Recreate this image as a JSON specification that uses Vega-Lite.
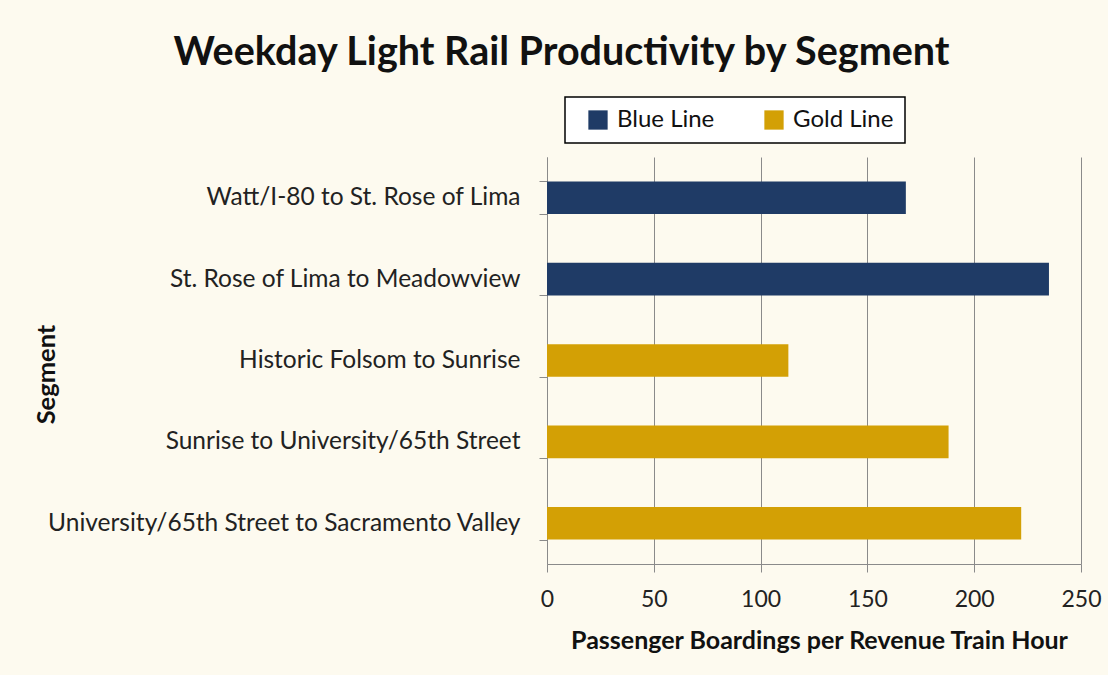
{
  "$schema": "https://vega.github.io/schema/vega-lite/v6.json",
  "width": 1108,
  "height": 675,
  "autosize": {"type": "fit", "contains": "padding"},
  "padding": {"left": 34, "top": 33, "right": 6, "bottom": 21},
  "background": "#fdfaef",
  "config": {
    "view": {"stroke": null},
    "font": "Lato",
    "axis": {"labelFont": "Lato", "titleFont": "Lato"}
  },
  "title": {
    "text": "Weekday Light Rail Productivity by Segment",
    "font": "Lato",
    "fontSize": 39.5,
    "fontWeight": "bold",
    "color": "#111111",
    "anchor": "middle",
    "frame": "bounds",
    "dx": -6,
    "offset": 70.5
  },
  "data": {
    "values": [
      {"segment": "Watt/I-80 to St. Rose of Lima", "line": "Blue Line", "value": 168},
      {"segment": "St. Rose of Lima to Meadowview", "line": "Blue Line", "value": 235},
      {"segment": "Historic Folsom to Sunrise", "line": "Gold Line", "value": 113},
      {"segment": "Sunrise to University/65th Street", "line": "Gold Line", "value": 188},
      {"segment": "University/65th Street to Sacramento Valley", "line": "Gold Line", "value": 222}
    ]
  },
  "mark": {"type": "bar"},
  "encoding": {
    "y": {
      "field": "segment",
      "type": "nominal",
      "sort": null,
      "scale": {"paddingInner": 0.6, "paddingOuter": 0.3},
      "axis": {
        "title": "Segment",
        "titleFontSize": 25.5,
        "titleFontWeight": "bold",
        "titleColor": "#111111",
        "titleAngle": -90,
        "titleX": -501,
        "titleY": 217,
        "titleAlign": "center",
        "titleBaseline": "middle",
        "labelFontSize": 24.5,
        "labelColor": "#222222",
        "labelPadding": 19,
        "labelLimit": 700,
        "tickBand": "extent",
        "tickSize": 8,
        "tickColor": "#8a8a8a",
        "domainColor": "#8a8a8a",
        "grid": false
      }
    },
    "x": {
      "field": "value",
      "type": "quantitative",
      "scale": {"domain": [0, 250], "nice": false},
      "axis": {
        "title": "Passenger Boardings per Revenue Train Hour",
        "titleFontSize": 25,
        "titleFontWeight": "bold",
        "titleColor": "#111111",
        "titleX": 272,
        "titleAlign": "center",
        "titlePadding": 17.5,
        "values": [0, 50, 100, 150, 200, 250],
        "labelFontSize": 23,
        "labelColor": "#222222",
        "labelPadding": 16,
        "labelFlush": false,
        "tickSize": 8,
        "tickColor": "#8a8a8a",
        "domainColor": "#8a8a8a",
        "grid": true,
        "gridColor": "#8a8a8a",
        "gridOpacity": 1
      }
    },
    "color": {
      "field": "line",
      "type": "nominal",
      "scale": {"domain": ["Blue Line", "Gold Line"], "range": ["#1f3b66", "#d3a005"]},
      "legend": {
        "orient": "none",
        "legendX": 18,
        "legendY": -60,
        "direction": "horizontal",
        "title": null,
        "fillColor": "#ffffff",
        "strokeColor": "#000000",
        "padding": 11,
        "symbolType": "square",
        "symbolSize": 372,
        "symbolStrokeWidth": 0,
        "symbolOffset": 10,
        "labelOffset": 7,
        "labelFont": "Lato",
        "labelFontSize": 24,
        "labelColor": "#111111",
        "columnPadding": 37,
        "encode": {"legend": {"update": {"strokeWidth": {"value": 1.5}}}}
      }
    }
  }
}
